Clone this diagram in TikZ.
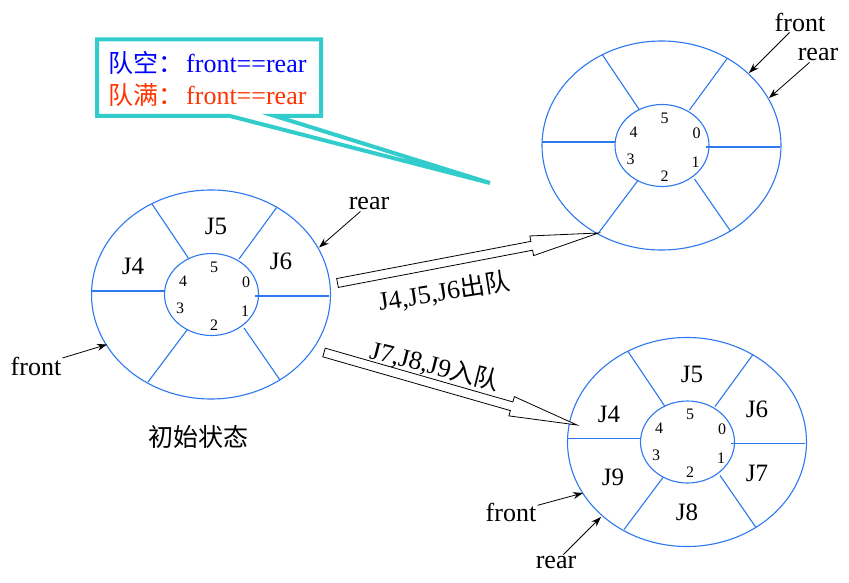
\documentclass[tikz,border=0pt]{standalone}
\usepackage{fontspec}
\setmainfont{Liberation Serif}
\newfontfamily\cjk{Noto Sans CJK SC}
\usetikzlibrary{calc,arrows.meta}
\definecolor{ringblue}{RGB}{45,120,240}
\definecolor{calloutc}{RGB}{51,204,204}
\definecolor{emptyc}{RGB}{0,0,255}
\definecolor{fullc}{RGB}{255,51,0}
\tikzset{
  ringline/.style={draw=ringblue, line width=1.1pt},
  slot/.style={font=\fontsize{25}{25}\selectfont, inner sep=0pt},
  idx/.style={font=\fontsize{16}{16}\selectfont, inner sep=0pt},
  ptr/.style={font=\fontsize{26}{26}\selectfont, inner sep=1pt},
  ptrarrow/.style={-{Stealth[length=10pt,width=7pt]}, line width=0.8pt},
  hollow/.style={draw=black, line width=0.8pt, fill=white, line join=miter},
  bigtext/.style={font=\fontsize{26}{28}\selectfont, inner sep=0pt},
}
\newcommand\cjkt[1]{{\cjk\fontsize{25}{28}\selectfont #1}}
\newcommand\ringshape{%
  \draw[ringline] (0,0) ellipse [x radius=119.5pt, y radius=104.5pt];
  \draw[ringline] (0.5,0) ellipse [x radius=47pt, y radius=41pt];
  \draw[ringline] (-119.5,-3.5) -- (-47,-3.5);
  \draw[ringline] (44,1.5) -- (118,1.5);
  \draw[ringline] (-59,-90.5) -- (-22,-35.5);
  \draw[ringline] (66,-87.5) -- (28,-35.5);
  \draw[ringline] (-24,35.5) -- (-63,87.5);
  \draw[ringline] (33,33.5) -- (69,85.5);
}
\newcommand\ringidx[1]{%
  \node[idx] (#1-i5) at (3,-27.5) {5};
  \node[idx] (#1-i4) at (-28,-13.5) {4};
  \node[idx] (#1-i0) at (35,-12.5) {0};
  \node[idx] (#1-i3) at (-31,13.5) {3};
  \node[idx] (#1-i1) at (34,16.5) {1};
  \node[idx] (#1-i2) at (3,30.5) {2};
}
\newcommand\hollowarrow[2]{%
  \path ($(#2)!68pt!(#1)$) coordinate (hb);
  \draw[hollow] ($(#1)!4.5pt!90:(#2)$) -- ($(hb)!4.5pt!90:(#2)$)
    -- ($(hb)!10pt!90:(#2)$) -- (#2) -- ($(hb)!10pt!-90:(#2)$)
    -- ($(hb)!4.5pt!-90:(#2)$) -- ($(#1)!4.5pt!-90:(#2)$) -- cycle;
}
\begin{document}
\begin{tikzpicture}[x=1pt,y=-1pt]
\fill[white] (0,0) rectangle (849,583);
\useasboundingbox (0,0) rectangle (849,583);

% left ring (initial state)
\begin{scope}[shift={(211,294.5)}]
  \ringshape
  \ringidx{L}
  \node[slot] (L-j5) at (5,-68) {J5};
  \node[slot] (L-j4) at (-78,-28) {J4};
  \node[slot] (L-j6) at (70,-33) {J6};
  \coordinate (L-rear) at (108,-47);
  \coordinate (L-front) at (-104,50);
\end{scope}
\node[inner sep=0pt] (init) at (198,437) {\cjkt{初始状态}};

% top right ring (empty)
\begin{scope}[shift={(661.5,145.5)}]
  \ringshape
  \ringidx{T}
  \coordinate (T-front) at (87.5,-72.5);
  \coordinate (T-rear) at (107.5,-47.5);
  \coordinate (T-ll) at (-63,87.5);
\end{scope}

% bottom right ring (full)
\begin{scope}[shift={(687,442)}]
  \ringshape
  \ringidx{B}
  \node[slot] (B-j5) at (5,-68) {J5};
  \node[slot] (B-j4) at (-78,-28) {J4};
  \node[slot] (B-j6) at (70,-33) {J6};
  \node[slot] (B-j9) at (-74,35) {J9};
  \node[slot] (B-j7) at (70,31) {J7};
  \node[slot] (B-j8) at (0,70) {J8};
  \coordinate (B-front) at (-104,51);
  \coordinate (B-rear) at (-86,75);
\end{scope}

% pointer labels
\node[ptr] (lrear) at (369,204) {rear};
\node[ptr] (lfront) at (36,366) {front};
\node[ptr] (tfront) at (800,22) {front};
\node[ptr] (trear) at (818,55) {rear};
\node[ptr] (bfront) at (511,512.5) {front};
\node[ptr] (brear) at (556,562) {rear};
\draw[ptrarrow] (lrear) -- (L-rear);
\draw[ptrarrow] (lfront) -- (L-front);
\draw[ptrarrow] (tfront) -- (T-front);
\draw[ptrarrow] (trear) -- (T-rear);
\draw[ptrarrow] (bfront) -- (B-front);
\draw[ptrarrow] (brear) -- (B-rear);

% block arrows
\coordinate (a1s) at (337.5,283);
\hollowarrow{a1s}{T-ll}
\coordinate (a2s) at (324,352.5);
\coordinate (a2t) at (577,425);
\hollowarrow{a2s}{a2t}
\node[bigtext, rotate=9] (deq) at (444,292) {J4,J5,J6\cjkt{出队}};
\node[bigtext, rotate=-14] (enq) at (435,366) {J7,J8,J9\cjkt{入队}};

% callout
\draw[calloutc, line width=4pt, fill=white, line join=miter]
  (97,39.5) -- (321,39.5) -- (321,116) -- (275,116) -- (490,183)
  -- (230,116) -- (97,116) -- cycle;
\node[bigtext, anchor=west, text=emptyc] (qempty) at (108,63) {\cjkt{队空：}\hspace{3pt}front==rear};
\node[bigtext, anchor=west, text=fullc] (qfull) at (108,95) {\cjkt{队满：}\hspace{3pt}front==rear};
\end{tikzpicture}
\end{document}
